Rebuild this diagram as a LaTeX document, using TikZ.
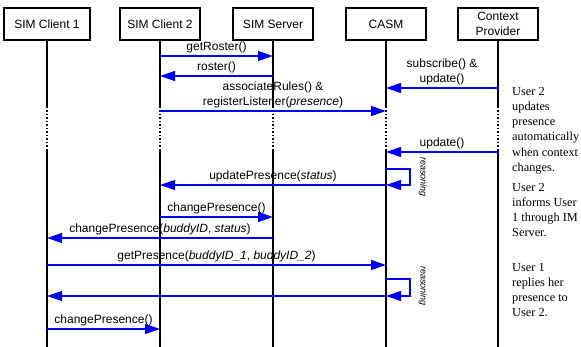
\documentclass[tikz,border=0pt]{standalone}
\usepackage{fontspec}
\setmainfont{Liberation Serif}
\setsansfont{Liberation Sans}
\usetikzlibrary{arrows.meta}
\def\lifeline(#1){\draw[life] (#1.south) -- (#1 |- 0,107);
  \draw[life, dash pattern=on 1.5pt off 2pt] (#1 |- 0,107) -- (#1 |- 0,150);
  \draw[life] (#1 |- 0,150) -- (#1 |- 0,347);}
\tikzset{
  actor/.style={draw, line width=1.3pt, minimum width=80pt, minimum height=32pt, inner sep=1pt,
    font=\sffamily\fontsize{12}{15}\selectfont, align=center},
  life/.style={line width=1.3pt},
  msg/.style={draw=blue, line width=1.3pt, -{Triangle[length=15pt,width=10pt]}},
  lbl/.style={above=1pt, inner sep=1pt, font=\sffamily\fontsize{12}{15}\selectfont, align=center, text=black},
  why/.style={rotate=-90, inner sep=0pt, font=\sffamily\itshape\fontsize{9}{10}\selectfont},
  note/.style={anchor=north west, align=left, inner sep=0pt, font=\rmfamily\fontsize{12.3}{15.2}\selectfont}
}
\begin{document}
\begin{tikzpicture}[x=1pt, y=-1pt]
			%%%%% START %%%%%
			\useasboundingbox (0,0) rectangle (581,347);
			
			\node[actor, minimum width=86pt] (cl1) at (47,24) {SIM Client 1};
			\node[actor] (cl2) at (160,24) {SIM Client 2};
			\node[actor] (srv) at (273,24) {SIM Server};
			\node[actor] (casm) at (386,24) {CASM};
			\node[actor] (ctx) at (498,24) {Context\\Provider};
			
			\lifeline(cl1)
			\lifeline(cl2)
			\lifeline(srv)
			\lifeline(casm)
			\lifeline(ctx)
			
			\draw[msg] (cl2 |- 0,56) -- node[lbl] (getroster) {getRoster()} (srv |- 0,56);
			\draw[msg] (srv |- 0,76) -- node[lbl] (roster) {roster()} (cl2 |- 0,76);
			\draw[msg] (ctx |- 0,88) -- node[lbl] (subscribe) {subscribe() \&\\update()} (casm |- 0,88);
			\draw[msg] (cl2 |- 0,111) -- node[lbl] (assoc) {associateRules() \&\\registerListener(\textit{presence})} (casm |- 0,111);
			
			\draw[msg] (ctx |- 0,152) -- node[lbl] (update) {update()} (casm |- 0,152);
			\draw[msg] (casm |- 0,169) -- ++(24,0) |- (casm |- 0,185);
			\node[why] (why1) at (423,177) {reasoning};
			\draw[msg] (casm |- 0,185) -- node[lbl] (updpres) {updatePresence(\textit{status})} (cl2 |- 0,185);
			
			\draw[msg] (cl2 |- 0,217) -- node[lbl] (chgpres) {changePresence()} (srv |- 0,217);
			\draw[msg] (srv |- 0,238) -- node[lbl] (chgbuddy) {changePresence(\textit{buddyID}, \textit{status})} (cl1 |- 0,238);
			
			\draw[msg] (cl1 |- 0,265) -- node[lbl] (getpres) {getPresence(\textit{buddyID\_1}, \textit{buddyID\_2})} (casm |- 0,265);
			\draw[msg] (casm |- 0,279) -- ++(24,0) |- (casm |- 0,296);
			\node[why] (why2) at (423,286) {reasoning};
			\draw[msg] (casm |- 0,296) -- (cl1 |- 0,296);
			\draw[msg] (cl1 |- 0,329) -- node[lbl] (reply) {changePresence()} (cl2 |- 0,329);
			
			\node[note] (note1) at (512,87) {User 2\\updates\\presence\\automatically\\when context\\changes.};
			\node[note] (note2) at (512,183) {User 2\\informs User\\1 through IM\\Server.};
			\node[note] (note3) at (512,263) {User 1\\replies her\\presence to\\User 2.};
			
			%%%%% END %%%%%
\end{tikzpicture}
\end{document}
